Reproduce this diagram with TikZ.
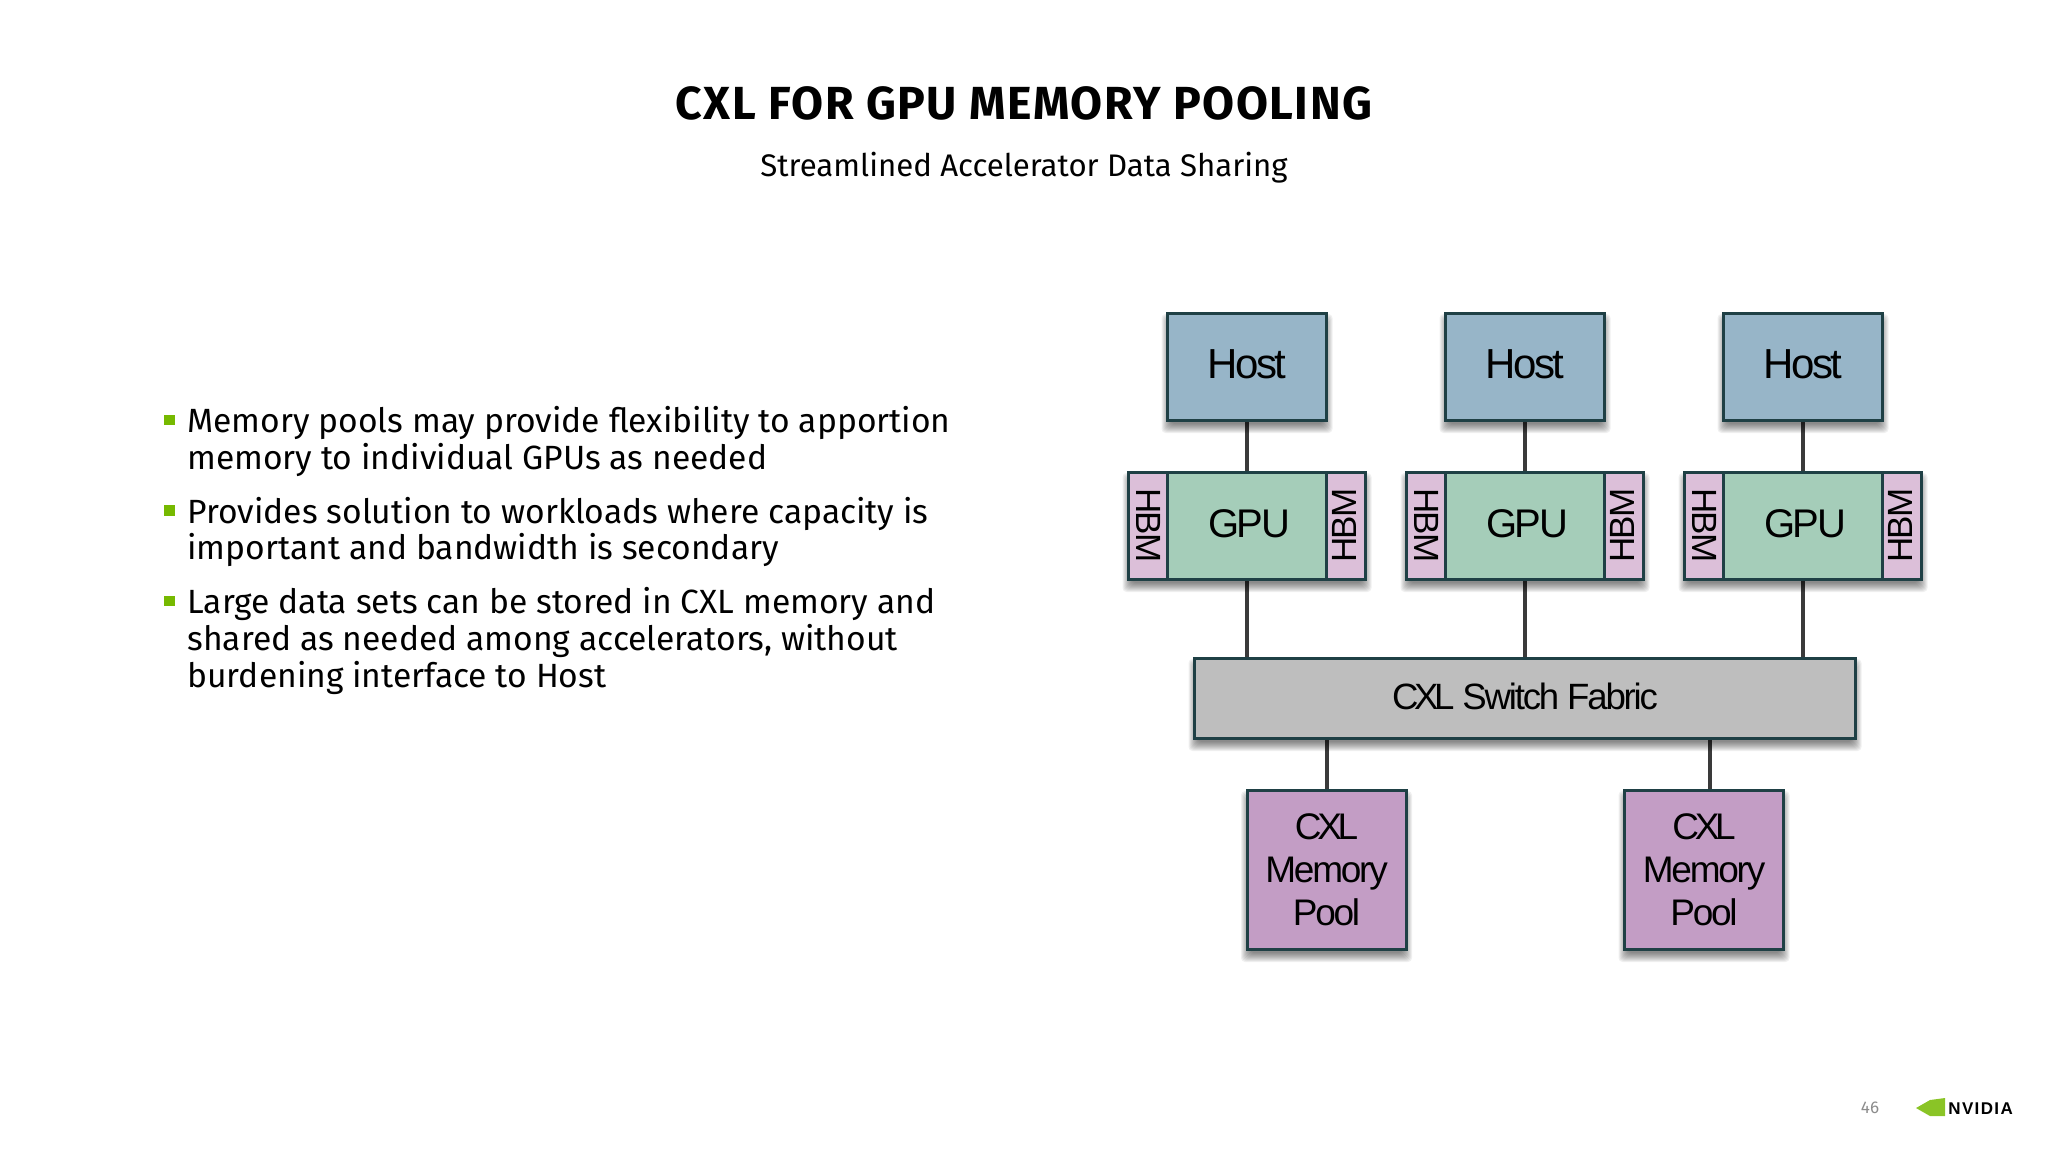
\documentclass[tikz,border=0pt]{standalone}
\usepackage{fontspec}
\setmainfont{Fira Sans}
\newfontfamily\diagfont{Liberation Sans}[LetterSpace=-6]
\newfontfamily\logofont{Liberation Sans}[LetterSpace=8]
\usetikzlibrary{backgrounds,positioning}

\definecolor{hostblue}{HTML}{97B5C8}
\definecolor{gpugreen}{HTML}{A5CDB9}
\definecolor{hbmpink}{HTML}{DCBFD9}
\definecolor{switchgrey}{HTML}{BEBEBE}
\definecolor{poolpurple}{HTML}{C39DC5}
\definecolor{edgeteal}{HTML}{1F4045}
\definecolor{wirecol}{HTML}{3A3A3A}
\definecolor{bulletgreen}{HTML}{76B900}

% soft shadow behind a box given by two corner nodes
\newcommand{\softshadow}[2]{%
  \foreach \s in {-3,-2,...,6}{%
    \fill[black,opacity=0.06,rounded corners=2pt]
      ([xshift=-\s*0.5pt,yshift=-3.5pt-\s*0.5pt]#1.south west) rectangle
      ([xshift=\s*0.5pt,yshift=-3.5pt+\s*0.5pt]#2.north east);
  }%
}
% CXL is set tighter than the other words
\newcommand{\cxl}{{\addfontfeature{LetterSpace=-12}CXL}}

\begin{document}
\begin{tikzpicture}[x=0.5pt,y=-0.5pt,
  box/.style={draw=edgeteal,line width=1.5pt,inner sep=0pt,outer sep=0pt,align=center,
    text=black,font=\diagfont\fontsize{21}{21.5}\selectfont},
  host/.style={box,fill=hostblue,minimum width=79.5pt,minimum height=53.5pt,text depth=2.5pt},
  gpu/.style={box,fill=gpugreen,minimum width=79.5pt,minimum height=53.5pt,text depth=2pt,
    font=\diagfont\fontsize{20}{21.5}\selectfont},
  hbm/.style={box,fill=hbmpink,minimum width=19.5pt,minimum height=53.5pt},
  hbmtext/.style={inner sep=0pt,font=\diagfont\fontsize{17.5}{18}\selectfont},
  fabric/.style={box,fill=switchgrey,minimum width=330.5pt,minimum height=40pt,text depth=2pt,
    font=\diagfont\fontsize{18.3}{18}\selectfont},
  pool/.style={box,fill=poolpurple,minimum width=79.5pt,minimum height=79.5pt,
    font=\diagfont\fontsize{18.5}{21.5}\selectfont},
  wire/.style={draw=wirecol,line width=2pt},
  bul/.style={fill=bulletgreen,inner sep=0pt,minimum size=5.25pt},
  txt/.style={anchor=base west,inner sep=0pt,font=\fontsize{16.8}{18.5}\selectfont},
]
\useasboundingbox (0,0) rectangle (2048,1152);

%% title
\node[anchor=base,inner sep=0pt,font=\bfseries\fontsize{23.2}{24}\selectfont\addfontfeature{LetterSpace=3.2}] (title) at (1024,119) {CXL FOR GPU MEMORY POOLING};
\node[anchor=base,inner sep=0pt,font=\fontsize{15.6}{18}\selectfont] (subtitle) at (1024,176) {Streamlined Accelerator Data Sharing};

%% bullets
\node[bul] (b1) at (169.5,420) {};
\node[bul] (b2) at (169.5,510.5) {};
\node[bul] (b3) at (169.5,601) {};
\node[txt] (l1) at (187,432) {Memory pools may provide flexibility to apportion};
\node[txt] (l2) at (187,469) {memory to individual GPUs as needed};
\node[txt] (l3) at (187,523) {Provides solution to workloads where capacity is};
\node[txt] (l4) at (187,559.5) {important and bandwidth is secondary};
\node[txt] (l5) at (187,613.5) {Large data sets can be stored in CXL memory and};
\node[txt] (l6) at (187,650.5) {shared as needed among accelerators, without};
\node[txt] (l7) at (187,687.5) {burdening interface to Host};

%% hosts
\node[host] (host1) at (1247,366.5) {Host};
\node[host] (host2) at (1525,366.5) {Host};
\node[host] (host3) at (1803,366.5) {Host};

%% gpus with hbm on both sides
\node[gpu] (gpu1) at (1247,525.5) {\hspace*{2pt}GPU};
\node[gpu] (gpu2) at (1525,525.5) {\hspace*{2pt}GPU};
\node[gpu] (gpu3) at (1803,525.5) {\hspace*{2pt}GPU};
\foreach \g in {1,2,3}{
  \node[hbm,left=0pt of gpu\g] (hl\g) {};
  \node[hbm,right=0pt of gpu\g] (hr\g) {};
  \node[hbmtext,rotate=-90] (tl\g) at ([xshift=0.5pt]hl\g.center) {HBM};
  \node[hbmtext,rotate=90] (tr\g) at ([xshift=-1pt]hr\g.center) {HBM};
}

%% fabric and pools
\node[fabric] (fabric) at (1525,698) {\cxl{} Switch Fabric};
\node[pool] (pool1) at (1326.5,869.5) {\cxl\\Memory\\Pool};
\node[pool] (pool2) at (1704,869.5) {\cxl\\Memory\\Pool};

%% connectors and shadows
\begin{scope}[on background layer]
\foreach \g in {1,2,3}{
  \draw[wire] (host\g) -- (gpu\g);
  \draw[wire] (gpu\g.south) -- (gpu\g.south |- fabric.north);
}
\draw[wire] (pool1.north) -- (pool1.north |- fabric.south);
\draw[wire] ([xshift=3pt]pool2.north) -- ([xshift=3pt]pool2.north |- fabric.south);
\foreach \g in {1,2,3}{
  \softshadow{host\g}{host\g}
  \softshadow{hl\g}{hr\g}
}
\softshadow{fabric}{fabric}
\softshadow{pool1}{pool1}
\softshadow{pool2}{pool2}
\end{scope}

%% page number and logo
\node[anchor=base,inner sep=0pt,text=black!45,font=\fontsize{8.5}{9}\selectfont] (page) at (1870,1113) {46};
\fill[bulletgreen!85!white] (1916,1108) -- (1930,1100) -- (1945,1098) -- (1945,1116) -- (1930,1116) -- cycle;
\node[anchor=base west,inner sep=0pt,font=\logofont\bfseries\fontsize{8.5}{9}\selectfont] (logo) at (1948,1114) {NVIDIA};
\end{tikzpicture}
\end{document}
